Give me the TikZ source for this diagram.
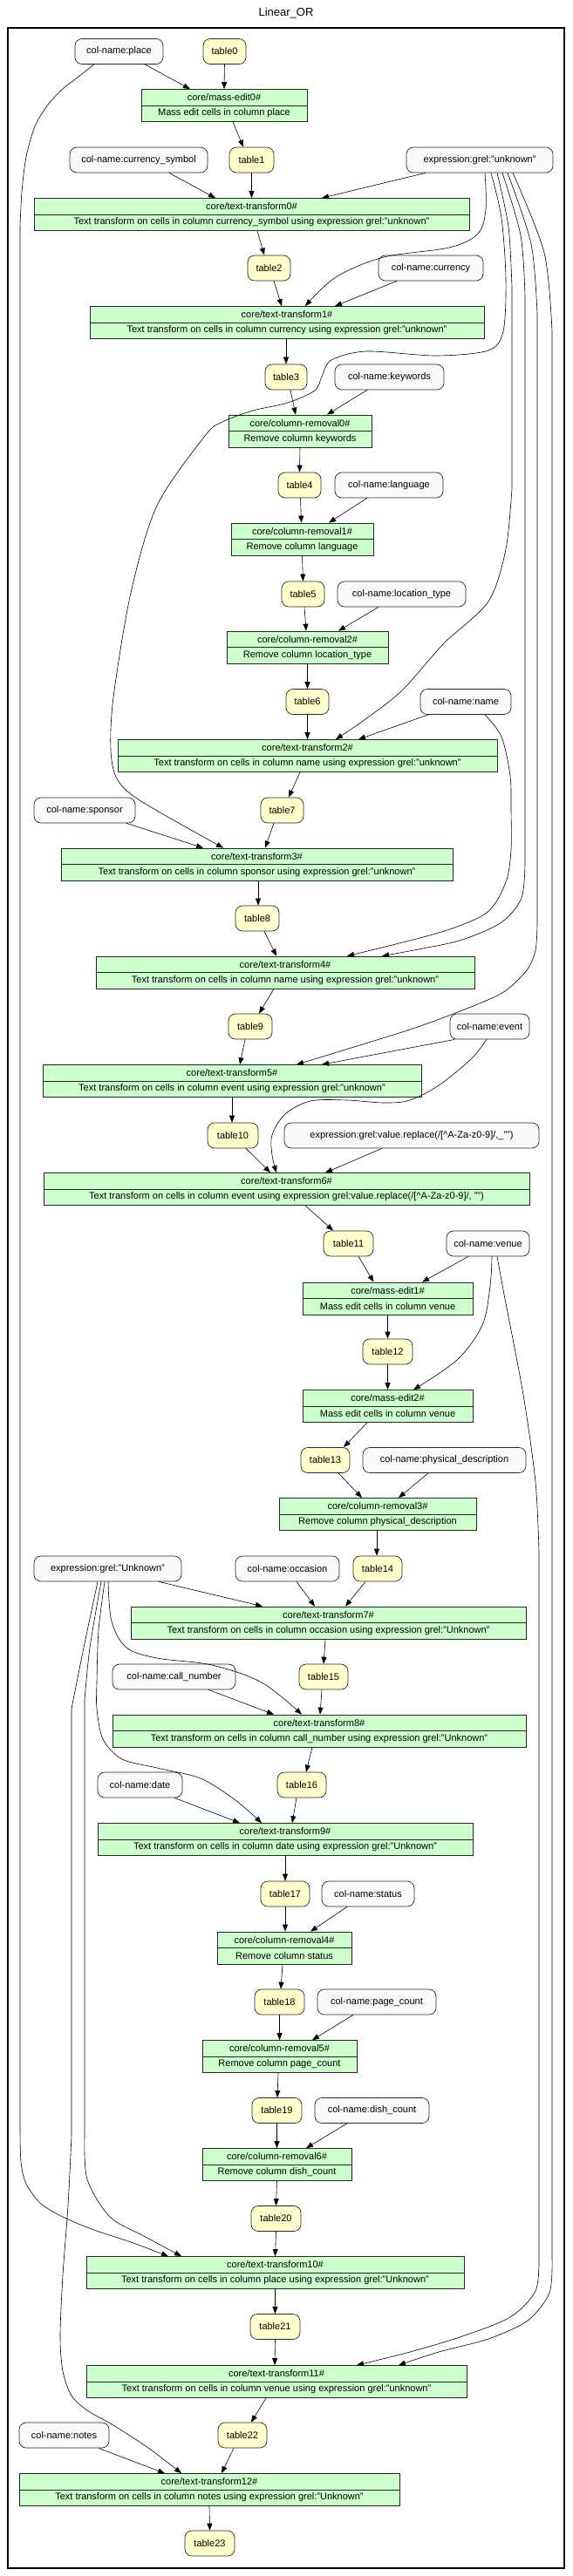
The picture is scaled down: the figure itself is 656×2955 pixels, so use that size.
\documentclass[tikz,border=0pt]{standalone}
\usepackage{fontspec}
\setmainfont{Liberation Sans}
\usetikzlibrary{arrows.meta}
\definecolor{recgreen}{RGB}{204,255,204}
\definecolor{tabyellow}{RGB}{255,255,204}
\definecolor{colwhite}{RGB}{250,250,250}
\tikzset{
  txt/.style={font=\fontsize{11}{13}\selectfont, inner sep=0pt},
  recbox/.style={draw=black!85, fill=recgreen, minimum height=37pt, inner sep=0pt, line width=0.7pt},
  tabnode/.style={draw=black!85, fill=tabyellow, rounded corners=8pt, minimum height=29pt, inner sep=0pt, line width=0.7pt, font=\fontsize{11}{13}\selectfont},
  colnode/.style={draw=black!85, fill=colwhite, rounded corners=8pt, minimum height=29pt, inner sep=0pt, line width=0.7pt, font=\fontsize{11}{13}\selectfont},
  arr/.style={-{Triangle[length=8pt,width=6pt]}, line width=0.6pt},
}
\newcommand\mktab[4]{\node[tabnode, minimum width=#4pt] (#1) at (#2,#3) {#1};}
\newcommand\mkcol[5]{\node[colnode, minimum width=#4pt] (#1) at (#2,#3) {#5};}
\newcommand\mkrec[6]{%
  \node[recbox, minimum width=#4pt] (#1) at (#2,#3) {};
  \draw[line width=0.7pt, draw=black!85] (#1.west) -- (#1.east);
  \node[txt] (#1-t) at ([yshift=9pt]#1.center) {#5};
  \node[txt] (#1-d) at ([yshift=-9pt]#1.center) {#6};
}
\newcommand\lnk[4]{\draw[arr] ([xshift=#2pt]#1.south) -- ([xshift=#4pt]#3.north);}
\begin{document}
\begin{tikzpicture}[x=1pt,y=-1pt]
\useasboundingbox (0,0) rectangle (656,2955);
\node[font=\fontsize{13}{15}\selectfont, inner sep=0pt] (title) at (328,15) {Linear\_OR};
\draw[line width=1.3pt] (9,32) rectangle (647,2946);

\mktab{table0}{257.5}{59}{49}
\mkcol{place}{136.5}{59}{101}{col-name:place}
\mkrec{me0}{257}{121}{190}{core/mass-edit0\#}{Mass edit cells in column place}
\mkcol{cs}{159}{183.5}{158}{col-name:currency\_symbol}
\mktab{table1}{288.5}{183.5}{51}
\mkcol{exprU}{550}{183.5}{168}{expression:grel:"unknown"}
\mkrec{tt0}{288.5}{246}{499}{core/text-transform0\#}{Text transform on cells in column currency\_symbol using expression grel:"unknown"}
\mktab{table2}{308.5}{307.5}{49}
\mkcol{currency}{494}{307.5}{120}{col-name:currency}
\mkrec{tt1}{329}{370}{452}{core/text-transform1\#}{Text transform on cells in column currency using expression grel:"unknown"}
\mktab{table3}{328}{432.5}{48}
\mkcol{keywords}{446.5}{432.5}{125}{col-name:keywords}
\mkrec{cr0}{344}{494.5}{164}{core/column-removal0\#}{Remove column keywords}
\mktab{table4}{343.5}{556.5}{49}
\mkcol{language}{446}{556.5}{124}{col-name:language}
\mkrec{cr1}{346.5}{618.5}{163}{core/column-removal1\#}{Remove column language}
\mktab{table5}{347.5}{681.5}{49}
\mkcol{loctype}{460.5}{681.5}{147}{col-name:location\_type}
\mkrec{cr2}{352.5}{742.5}{185}{core/column-removal2\#}{Remove column location\_type}
\mktab{table6}{352.5}{805}{49}
\mkcol{name}{534}{805}{104}{col-name:name}
\mkrec{tt2}{352.5}{867}{435}{core/text-transform2\#}{Text transform on cells in column name using expression grel:"unknown"}
\mktab{table7}{323.5}{929.5}{49}
\mkcol{sponsor}{97}{929.5}{116}{col-name:sponsor}
\mkrec{tt3}{294.5}{991.5}{449}{core/text-transform3\#}{Text transform on cells in column sponsor using expression grel:"unknown"}
\mktab{table8}{295}{1053.5}{50}
\mkrec{tt4}{327}{1115.5}{434}{core/text-transform4\#}{Text transform on cells in column name using expression grel:"unknown"}
\mktab{table9}{287}{1177.5}{50}
\mkcol{event}{561.5}{1177.5}{91}{col-name:event}
\mkrec{tt5}{266}{1240}{434}{core/text-transform5\#}{Text transform on cells in column event using expression grel:"unknown"}
\mktab{table10}{267}{1302.5}{58}
\mkcol{replace}{472}{1302.5}{292}{expression:grel:value.replace(/[\textasciicircum A-Za-z0-9]/,\_"")}
\mkrec{tt6}{328.5}{1364}{557}{core/text-transform6\#}{Text transform on cells in column event using expression grel:value.replace(/[\textasciicircum A-Za-z0-9]/, "")}
\mktab{table11}{399.5}{1426.5}{57}
\mkcol{venue}{559.5}{1426.5}{95}{col-name:venue}
\mkrec{me1}{444.5}{1489.5}{195}{core/mass-edit1\#}{Mass edit cells in column venue}
\mktab{table12}{444.5}{1550.5}{57}
\mkrec{me2}{444.5}{1613}{195}{core/mass-edit2\#}{Mass edit cells in column venue}
\mktab{table13}{373}{1675}{56}
\mkcol{physdesc}{509.5}{1675}{187}{col-name:physical\_description}
\mkrec{cr3}{433}{1737}{226}{core/column-removal3\#}{Remove column physical\_description}
\mkcol{exprK}{123.5}{1799.5}{169}{expression:grel:"Unknown"}
\mkcol{occasion}{329.5}{1799.5}{119}{col-name:occasion}
\mktab{table14}{433}{1799.5}{56}
\mkrec{tt7}{376.5}{1861.5}{453}{core/text-transform7\#}{Text transform on cells in column occasion using expression grel:"Unknown"}
\mktab{table15}{371}{1923.5}{56}
\mkcol{callnum}{199.5}{1923.5}{141}{col-name:call\_number}
\mkrec{tt8}{366}{1985.5}{474}{core/text-transform8\#}{Text transform on cells in column call\_number using expression grel:"Unknown"}
\mkcol{date}{160.5}{2047.5}{97}{col-name:date}
\mktab{table16}{346}{2047.5}{56}
\mkrec{tt9}{327}{2110}{430}{core/text-transform9\#}{Text transform on cells in column date using expression grel:"Unknown"}
\mktab{table17}{327}{2172.5}{56}
\mkcol{status}{422}{2172.5}{106}{col-name:status}
\mkrec{cr4}{326}{2234.5}{154}{core/column-removal4\#}{Remove column status}
\mktab{table18}{320.5}{2296.5}{57}
\mkcol{pagecount}{432}{2296.5}{136}{col-name:page\_count}
\mkrec{cr5}{320.5}{2359}{177}{core/column-removal5\#}{Remove column page\_count}
\mktab{table19}{317.5}{2421}{57}
\mkcol{dishcount}{426.5}{2421}{131}{col-name:dish\_count}
\mkrec{cr6}{317.5}{2483}{171}{core/column-removal6\#}{Remove column dish\_count}
\mktab{table20}{316.5}{2545}{57}
\mkrec{tt10}{315.5}{2607}{433}{core/text-transform10\#}{Text transform on cells in column place using expression grel:"Unknown"}
\mktab{table21}{315.5}{2669}{57}
\mkrec{tt11}{317}{2732}{436}{core/text-transform11\#}{Text transform on cells in column venue using expression grel:"unknown"}
\mktab{table22}{278}{2793.5}{56}
\mkcol{notes}{73.5}{2793.5}{103}{col-name:notes}
\mkrec{tt12}{240}{2856}{436}{core/text-transform12\#}{Text transform on cells in column notes using expression grel:"Unknown"}
\mktab{table23}{240.5}{2917.5}{57}

% straight connectors
\lnk{place}{29.5}{me0}{-39}
\lnk{table0}{0}{me0}{0}
\lnk{me0}{10}{table1}{-9.5}
\lnk{cs}{35}{tt0}{-41.5}
\lnk{table1}{0}{tt0}{0}
\lnk{exprU}{-62}{tt0}{80.5}
\lnk{tt0}{6.5}{table2}{-5.5}
\lnk{table2}{5.5}{tt1}{-6}
\lnk{currency}{-39}{tt1}{55}
\lnk{tt1}{-1}{table3}{0}
\lnk{table3}{5}{cr0}{-5}
\lnk{keywords}{-25.5}{cr0}{31}
\lnk{cr0}{0}{table4}{0}
\lnk{table4}{1}{cr1}{-1}
\lnk{language}{-25}{cr1}{30.5}
\lnk{cr1}{0}{table5}{0}
\lnk{table5}{1.5}{cr2}{-1.5}
\lnk{loctype}{-26.5}{cr2}{35.5}
\lnk{cr2}{0}{table6}{0}
\lnk{table6}{0}{tt2}{0}
\lnk{name}{-43}{tt2}{58.5}
\lnk{tt2}{-8.5}{table7}{7.5}
\lnk{table7}{-9.5}{tt3}{9.5}
\lnk{sponsor}{48}{tt3}{-61.5}
\lnk{tt3}{1.5}{table8}{1}
\lnk{table8}{8}{tt4}{-10}
\lnk{tt4}{-13}{table9}{10}
\lnk{table9}{-6}{tt5}{9}
\lnk{event}{-40}{tt5}{103}
\lnk{tt5}{0}{table10}{-1}
\lnk{table10}{15}{tt6}{-18.5}
\lnk{replace}{-34}{tt6}{44.5}
\lnk{tt6}{21.5}{table11}{-17.5}
\lnk{table11}{11.5}{me1}{-16}
\lnk{venue}{-22.5}{me1}{39.5}
\lnk{me1}{0}{table12}{0}
\lnk{table12}{0}{me2}{0}
\lnk{me2}{-23.5}{table13}{21}
\lnk{table13}{15}{cr3}{-18}
\lnk{physdesc}{-18.5}{cr3}{24}
\lnk{cr3}{-1}{table14}{-1}
\lnk{table14}{-14}{tt7}{19.5}
\lnk{occasion}{10.5}{tt7}{-15.5}
\lnk{exprK}{58.5}{tt7}{-75.5}
\lnk{tt7}{-3.5}{table15}{0}
\lnk{table15}{-2}{tt8}{1}
\lnk{callnum}{39.5}{tt8}{-52}
\lnk{tt8}{-8}{table16}{5}
\lnk{table16}{-6}{tt9}{8}
\lnk{date}{39.5}{tt9}{-52}
\lnk{tt9}{0}{table17}{0}
\lnk{table17}{0}{cr4}{1}
\lnk{status}{-24}{cr4}{30}
\lnk{cr4}{-2}{table18}{1.5}
\lnk{table18}{0}{cr5}{0}
\lnk{pagecount}{-27}{cr5}{37.5}
\lnk{cr5}{-1.5}{table19}{0.5}
\lnk{table19}{0}{cr6}{0}
\lnk{dishcount}{-28.5}{cr6}{33.5}
\lnk{cr6}{0}{table20}{0}
\lnk{table20}{0}{tt10}{0}
\lnk{tt10}{0}{table21}{0}
\lnk{table21}{0}{tt11}{-2}
\lnk{tt11}{-12}{table22}{10}
\lnk{table22}{-10}{tt12}{14}
\lnk{notes}{39.5}{tt12}{-51}
\lnk{tt12}{0}{table23}{0}

% curved connectors
\draw[arr] plot[smooth, tension=0.55] coordinates {([xshift=6pt]exprU.south) (557,240) (548,268) (515,284) (440,295) (385,318) ([xshift=21pt]tt1.north)};
\draw[arr] plot[smooth, tension=0.5] coordinates {([xshift=13pt]exprU.south) (575,250) (580,320) (577,380) (560,402) (500,408) (420,403) (380,413) (369,432) (361,448) (330,462) (290,471) (255,484) (235,500) (180,580) (150,680) (130,800) (127,860) (134,893) (160,918) ([xshift=-38.5pt]tt3.north)};
\draw[arr] plot[smooth, tension=0.5] coordinates {([xshift=20pt]exprU.south) (583,260) (587,330)} -- plot[smooth, tension=0.5] coordinates {(587,560) (580,630) (560,690) (509,738) (461,792) (419,825) ([xshift=32.5pt]tt2.north)};
\draw[arr] plot[smooth, tension=0.5] coordinates {([xshift=22pt]name.south) (575,845) (585,890) (586,930) (586,975) (580,1012) (558,1047) (503,1070) ([xshift=71pt]tt4.north)};
\draw[arr] plot[smooth, tension=0.5] coordinates {([xshift=26pt]exprU.south) (597,270) (602,340)} -- plot[smooth, tension=0.5] coordinates {(602,990) (598,1030) (575,1058) (530,1078) (485,1088) ([xshift=111pt]tt4.north)};
\draw[arr] plot[smooth, tension=0.5] coordinates {([xshift=32pt]exprU.south) (609,280) (616,360)} -- plot[smooth, tension=0.5] coordinates {(616,1060) (614,1090) (604,1113) (579,1137) (545,1153) (482,1177) (419,1197) ([xshift=74pt]tt5.north)};
\draw[arr] plot[smooth, tension=0.5] coordinates {([xshift=38pt]exprU.south) (624,290) (633,380)} -- plot[smooth, tension=0.5] coordinates {(633,2590) (630,2630) (605,2662) (560,2683) (503,2698) ([xshift=140pt]tt11.north)};
\draw[arr] plot[smooth, tension=0.55] coordinates {([xshift=-3.5pt]event.south) (540,1215) (503,1245) (470,1262) (440,1265) (398,1262) (356,1263) (327,1278) (312,1302) (312,1325) ([xshift=-11.5pt]tt6.north)};
\draw[arr] plot[smooth, tension=0.55] coordinates {([xshift=4.5pt]venue.south) (562,1475) (553,1520) (524,1560) ([xshift=29.5pt]me2.north)};
\draw[arr] plot[smooth, tension=0.5] coordinates {([xshift=10.5pt]venue.south) (579,1490) (600,1600) (614,1700) (618,1780)} -- plot[smooth, tension=0.5] coordinates {(618,2590) (614,2628) (585,2658) (530,2680) (470,2698) ([xshift=92pt]tt11.north)};
\draw[arr] plot[smooth, tension=0.55] coordinates {([xshift=0.5pt]exprK.south) (128,1860) (145,1890) (180,1902) (243,1910) (300,1930) ([xshift=-20pt]tt8.north)};
\draw[arr] plot[smooth, tension=0.5] coordinates {([xshift=-3.5pt]exprK.south) (113,1870) (111,1930) (111,1960) (118,1995) (140,2018) (180,2028) (230,2040) (270,2065) ([xshift=-27pt]tt9.north)};
\draw[arr] plot[smooth, tension=0.5] coordinates {([xshift=-7.5pt]exprK.south) (103,1890) (97,1950)} -- plot[smooth, tension=0.5] coordinates {(97,2450) (100,2500) (126,2543) (165,2565) ([xshift=-107.5pt]tt10.north)};
\draw[arr] plot[smooth, tension=0.5] coordinates {([xshift=-11.5pt]exprK.south) (96,1890) (82,1960)} -- plot[smooth, tension=0.5] coordinates {(82,2450) (78,2530) (72,2610) (69,2680) (72,2720) (82,2748) (100,2765) (130,2782) (170,2808) ([xshift=-32pt]tt12.north)};
\draw[arr] plot[smooth, tension=0.5] coordinates {([xshift=-28.5pt]place.south) (90,88) (72,102) (55,120) (40,145) (30,180) (25,220) (23,260)} -- plot[smooth, tension=0.5] coordinates {(23,2440) (24,2480) (30,2505) (46,2527) (70,2542) (105,2557) (150,2572) ([xshift=-122.5pt]tt10.north)};
\end{tikzpicture}
\end{document}
